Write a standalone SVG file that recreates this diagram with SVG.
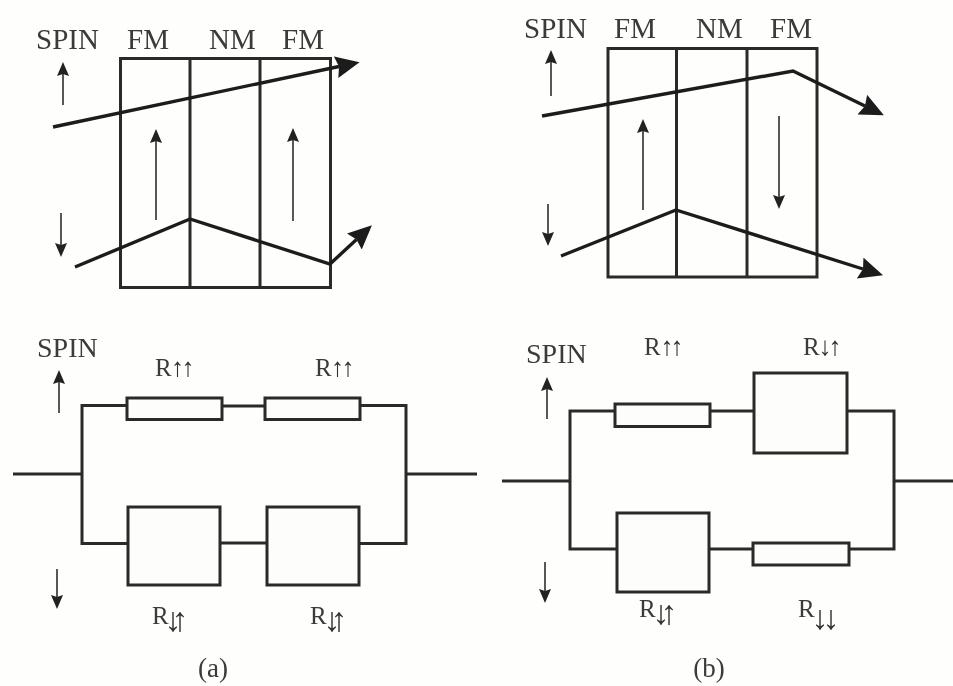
<svg xmlns="http://www.w3.org/2000/svg" width="953" height="686" viewBox="0 0 953 686">
<style>
.bg{fill:#fefefd}
.w{fill:none;stroke:#2a2a2a;stroke-width:3;stroke-linejoin:miter}
.b{fill:#fdfdfc;stroke:#2a2a2a;stroke-width:3}
.beam{fill:none;stroke:#1c1c1c;stroke-width:3.4;stroke-linejoin:miter}
.beam.h{marker-end:url(#big)}
.s{fill:none;stroke:#3a3a3a;stroke-width:1.7;marker-end:url(#small)}
text{font-family:"Liberation Serif","Times New Roman",serif;fill:#3a3a3a}
.h1{font-size:29px}
.h2{font-size:28px}
.r{font-size:25px}
.c{font-size:27px;text-anchor:middle}
.a{font-size:26px;fill:#333}
.t{font-size:34px;fill:#333}
.soft{filter:url(#soft)}
</style>
<defs>
<marker id="big" markerUnits="userSpaceOnUse" markerWidth="26" markerHeight="24" refX="3" refY="11" orient="auto"><path d="M0 0L24 11L0 22L3 11Z" fill="#1c1c1c"/></marker>
<marker id="small" markerUnits="userSpaceOnUse" markerWidth="15" markerHeight="13" refX="2" refY="6" orient="auto"><path d="M0 0L14 6L0 12L2 6Z" fill="#222"/></marker>
<filter id="soft" x="0" y="0" width="100%" height="100%"><feGaussianBlur stdDeviation="0.45"/></filter>
</defs>
<rect class="bg" width="953" height="686"/>
<g class="soft">
<g id="stack-a">
<rect class="w" x="120.500" y="58.500" width="210" height="229"/>
<path class="w" d="M190 58V288M260 58V288"/>
<text class="h1" x="36" y="49">SPIN</text>
<text class="h1" x="127" y="49">FM</text>
<text class="h1" x="209" y="49">NM</text>
<text class="h1" x="282" y="49">FM</text>
</g>
<g id="stack-b">
<rect class="w" x="608" y="48.500" width="209" height="228.500"/>
<path class="w" d="M676.500 48V277M747 48V277"/>
<text class="h1" x="524" y="38">SPIN</text>
<text class="h1" x="614" y="38">FM</text>
<text class="h1" x="696" y="38">NM</text>
<text class="h1" x="770" y="38">FM</text>
</g>
<g id="connectors">
<path class="beam h" d="M53 127L339 66.500"/>
<path class="beam h" d="M75 267L190 219L330 264L356.500 239.500"/>
<path class="beam h" d="M542 116L793 71L865 106"/>
<path class="beam h" d="M561 256L676 210L863 269"/>
<path class="s" d="M63 105V74"/>
<path class="s" d="M61 213V245"/>
<path class="s" d="M156 220V141"/>
<path class="s" d="M293 221V140"/>
<path class="s" d="M551 96V62"/>
<path class="s" d="M548 204V234"/>
<path class="s" d="M643 210V131"/>
<path class="s" d="M779 116V197"/>
<path class="s" d="M59 413V382"/>
<path class="s" d="M57 569V597"/>
<path class="s" d="M547 419V389"/>
<path class="s" d="M545 562V591"/>
<path class="w" d="M13 474H82M127 405.500H82V543.500H128M222 406H265M360 405.500H406V543.500H359M220 543H267M406 474H477"/>
<path class="w" d="M502 481H570M615 411H570V549H617M710 411H754M847 411H894V549H849M709 549H753M894 481H953"/>
</g>
<g id="r-a1"><rect class="b" x="127" y="398" width="95" height="21.500"/><text class="r" x="155" y="376">R<tspan class="a" x="171" y="376">↑</tspan><tspan class="a" x="181.500" y="376">↑</tspan></text></g>
<g id="r-a2"><rect class="b" x="265" y="398" width="95" height="21.500"/><text class="r" x="315" y="376">R<tspan class="a" x="331" y="376">↑</tspan><tspan class="a" x="341.500" y="376">↑</tspan></text></g>
<g id="r-a3"><rect class="b" x="128" y="507" width="92" height="78"/><text class="r" x="152" y="624">R<tspan class="t" x="164.500" y="631">↓</tspan><tspan class="t" x="171.500" y="631">↑</tspan></text></g>
<g id="r-a4"><rect class="b" x="267" y="507" width="92" height="78"/><text class="r" x="310" y="624">R<tspan class="t" x="323.500" y="631">↓</tspan><tspan class="t" x="330.500" y="631">↑</tspan></text></g>
<g id="r-b1"><rect class="b" x="615" y="404" width="95" height="22.500"/><text class="r" x="644" y="355">R<tspan class="a" x="660.500" y="355">↑</tspan><tspan class="a" x="670.500" y="355">↑</tspan></text></g>
<g id="r-b2"><rect class="b" x="754" y="373" width="93" height="80"/><text class="r" x="803" y="355">R<tspan class="a" x="818.500" y="355">↓</tspan><tspan class="a" x="828.500" y="355">↑</tspan></text></g>
<g id="r-b3"><rect class="b" x="617" y="513" width="92" height="79"/><text class="r" x="639" y="617">R<tspan class="t" x="652.500" y="624">↓</tspan><tspan class="t" x="660.500" y="624">↑</tspan></text></g>
<g id="r-b4"><rect class="b" x="753" y="543" width="96" height="22"/><text class="r" x="798" y="617">R<tspan class="t" x="811.500" y="629">↓</tspan><tspan class="t" x="822.500" y="629">↓</tspan></text></g>
<g id="captions">
<text class="h2" x="37" y="357">SPIN</text>
<text class="h2" x="526" y="363">SPIN</text>
<text class="c" x="213" y="677">(a)</text>
<text class="c" x="709" y="677">(b)</text>
</g>
</g>
</svg>
